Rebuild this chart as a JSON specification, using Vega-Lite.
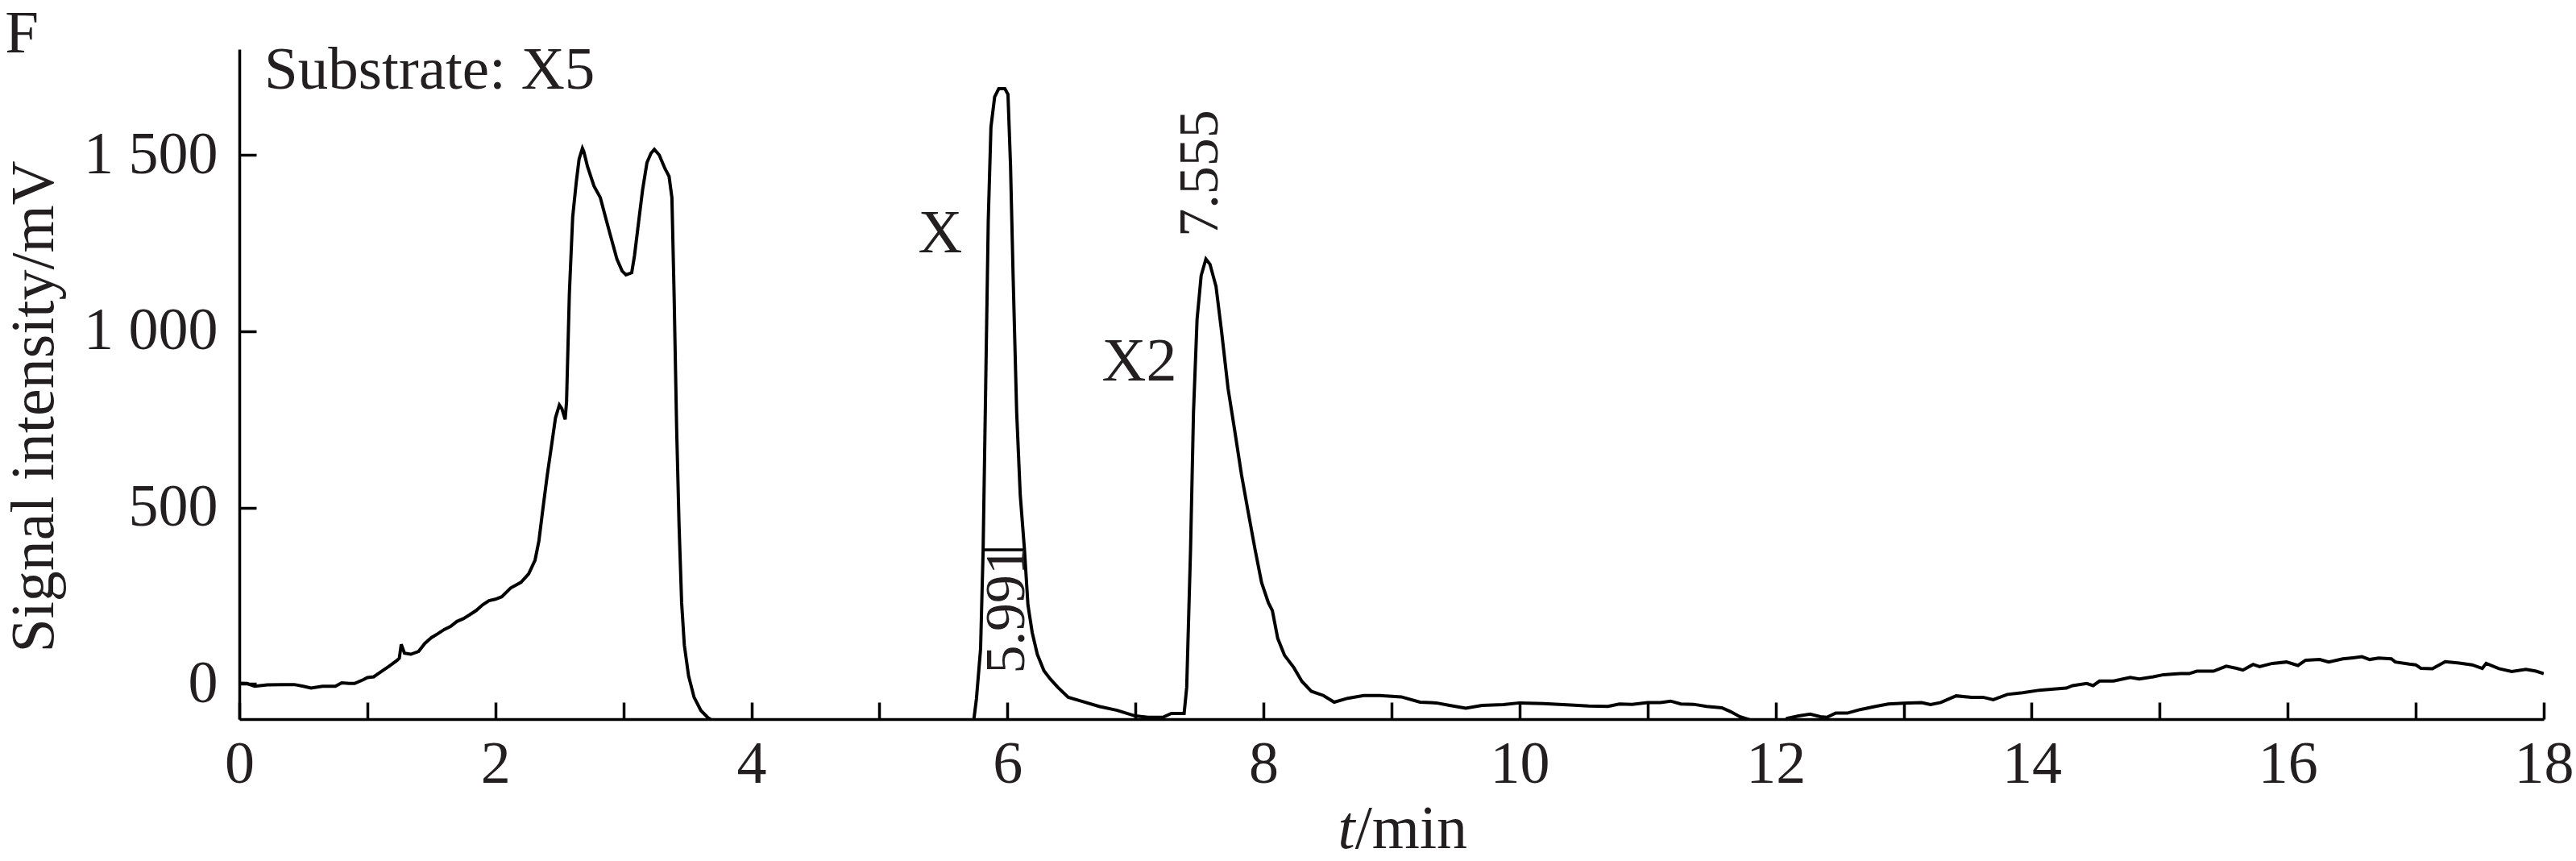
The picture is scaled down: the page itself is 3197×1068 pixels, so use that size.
{
  "$schema": "https://vega.github.io/schema/vega-lite/v6.json",
  "width": 2860,
  "height": 831,
  "autosize": {"type": "none"},
  "padding": {"left": 297, "top": 61, "right": 40, "bottom": 176},
  "background": "white",
  "config": {
    "view": {"stroke": null},
    "font": "Liberation Serif",
    "axis": {
      "grid": false,
      "domainColor": "#000000",
      "domainWidth": 3.5,
      "tickColor": "#000000",
      "tickWidth": 3.5,
      "labelFont": "Liberation Serif",
      "labelFontSize": 74,
      "labelColor": "#231f20",
      "titleFont": "Liberation Serif",
      "titleFontSize": 76,
      "titleFontWeight": "normal",
      "titleColor": "#231f20"
    }
  },
  "layer": [
    {
      "data": {
        "values": [
          {"t": 0, "v": 2}, {"t": 0.06, "v": 1}, {"t": 0.12, "v": -7}, {"t": 0.22, "v": -3},
          {"t": 0.33, "v": -2}, {"t": 0.43, "v": -2}, {"t": 0.5, "v": -7}, {"t": 0.56, "v": -12},
          {"t": 0.65, "v": -7}, {"t": 0.75, "v": -7}, {"t": 0.8, "v": 3}, {"t": 0.86, "v": 1},
          {"t": 0.9, "v": 1}, {"t": 0.97, "v": 12}, {"t": 1.0, "v": 18}, {"t": 1.05, "v": 20},
          {"t": 1.11, "v": 35}, {"t": 1.17, "v": 50}, {"t": 1.23, "v": 66}, {"t": 1.25, "v": 73},
          {"t": 1.265, "v": 112}, {"t": 1.29, "v": 87}, {"t": 1.34, "v": 84}, {"t": 1.4, "v": 92},
          {"t": 1.45, "v": 115}, {"t": 1.5, "v": 131}, {"t": 1.55, "v": 142}, {"t": 1.6, "v": 154},
          {"t": 1.65, "v": 163}, {"t": 1.7, "v": 177}, {"t": 1.75, "v": 185}, {"t": 1.8, "v": 196},
          {"t": 1.85, "v": 208}, {"t": 1.9, "v": 224}, {"t": 1.95, "v": 236}, {"t": 2.0, "v": 240},
          {"t": 2.05, "v": 247}, {"t": 2.12, "v": 272}, {"t": 2.2, "v": 288}, {"t": 2.26, "v": 312},
          {"t": 2.31, "v": 351}, {"t": 2.34, "v": 405}, {"t": 2.37, "v": 493}, {"t": 2.405, "v": 591},
          {"t": 2.44, "v": 679}, {"t": 2.47, "v": 755}, {"t": 2.5, "v": 791}, {"t": 2.52, "v": 780},
          {"t": 2.545, "v": 750}, {"t": 2.556, "v": 799}, {"t": 2.578, "v": 1106}, {"t": 2.604, "v": 1324},
          {"t": 2.632, "v": 1423}, {"t": 2.654, "v": 1488}, {"t": 2.68, "v": 1519}, {"t": 2.69, "v": 1511},
          {"t": 2.72, "v": 1467}, {"t": 2.77, "v": 1412}, {"t": 2.82, "v": 1379}, {"t": 2.86, "v": 1324},
          {"t": 2.9, "v": 1270}, {"t": 2.95, "v": 1204}, {"t": 2.99, "v": 1171}, {"t": 3.02, "v": 1160},
          {"t": 3.065, "v": 1166}, {"t": 3.087, "v": 1215}, {"t": 3.12, "v": 1313}, {"t": 3.15, "v": 1401},
          {"t": 3.184, "v": 1478}, {"t": 3.216, "v": 1505}, {"t": 3.242, "v": 1516}, {"t": 3.28, "v": 1500},
          {"t": 3.325, "v": 1461}, {"t": 3.357, "v": 1439}, {"t": 3.379, "v": 1379}, {"t": 3.396, "v": 1106},
          {"t": 3.416, "v": 723}, {"t": 3.435, "v": 449}, {"t": 3.455, "v": 230}, {"t": 3.476, "v": 110},
          {"t": 3.509, "v": 23}, {"t": 3.552, "v": -38}, {"t": 3.606, "v": -76}, {"t": 3.66, "v": -96},
          {"t": 3.7, "v": -105}, {"t": 3.75, "v": -130}, {"t": 5.7, "v": -130}, {"t": 5.738, "v": -100},
          {"t": 5.758, "v": -41}, {"t": 5.79, "v": 99}, {"t": 5.81, "v": 380}, {"t": 5.83, "v": 847},
          {"t": 5.85, "v": 1314}, {"t": 5.871, "v": 1579}, {"t": 5.9, "v": 1665}, {"t": 5.932, "v": 1688},
          {"t": 5.98, "v": 1688}, {"t": 6.004, "v": 1672}, {"t": 6.024, "v": 1470}, {"t": 6.044, "v": 1158},
          {"t": 6.072, "v": 769}, {"t": 6.1, "v": 535}, {"t": 6.133, "v": 380}, {"t": 6.16, "v": 224},
          {"t": 6.193, "v": 146}, {"t": 6.233, "v": 84}, {"t": 6.285, "v": 37}, {"t": 6.334, "v": 14},
          {"t": 6.394, "v": -10}, {"t": 6.475, "v": -38}, {"t": 6.575, "v": -49}, {"t": 6.716, "v": -64},
          {"t": 6.857, "v": -75}, {"t": 6.998, "v": -91}, {"t": 7.099, "v": -95}, {"t": 7.22, "v": -94},
          {"t": 7.28, "v": -84}, {"t": 7.38, "v": -84}, {"t": 7.4, "v": -10}, {"t": 7.43, "v": 380},
          {"t": 7.453, "v": 769}, {"t": 7.481, "v": 1034}, {"t": 7.513, "v": 1158}, {"t": 7.55, "v": 1205},
          {"t": 7.582, "v": 1190}, {"t": 7.629, "v": 1127}, {"t": 7.671, "v": 1004}, {"t": 7.723, "v": 838},
          {"t": 7.776, "v": 716}, {"t": 7.828, "v": 593}, {"t": 7.88, "v": 488}, {"t": 7.933, "v": 383},
          {"t": 7.985, "v": 287}, {"t": 8.038, "v": 230}, {"t": 8.069, "v": 208}, {"t": 8.111, "v": 129},
          {"t": 8.164, "v": 81}, {"t": 8.237, "v": 46}, {"t": 8.3, "v": 7}, {"t": 8.373, "v": -21},
          {"t": 8.468, "v": -33}, {"t": 8.552, "v": -52}, {"t": 8.657, "v": -41}, {"t": 8.782, "v": -33},
          {"t": 8.908, "v": -33}, {"t": 9.076, "v": -37}, {"t": 9.223, "v": -52}, {"t": 9.349, "v": -54},
          {"t": 9.454, "v": -61}, {"t": 9.58, "v": -69}, {"t": 9.706, "v": -61}, {"t": 9.873, "v": -59},
          {"t": 10.0, "v": -54}, {"t": 10.188, "v": -56}, {"t": 10.4, "v": -60}, {"t": 10.54, "v": -63},
          {"t": 10.69, "v": -64}, {"t": 10.78, "v": -57}, {"t": 10.88, "v": -58}, {"t": 11.0, "v": -53},
          {"t": 11.1, "v": -53}, {"t": 11.18, "v": -49}, {"t": 11.26, "v": -57}, {"t": 11.36, "v": -58},
          {"t": 11.46, "v": -64}, {"t": 11.58, "v": -68}, {"t": 11.65, "v": -79}, {"t": 11.72, "v": -93},
          {"t": 11.79, "v": -101}, {"t": 11.89, "v": -112}, {"t": 12.06, "v": -112}, {"t": 12.09, "v": -98},
          {"t": 12.18, "v": -91}, {"t": 12.27, "v": -86}, {"t": 12.35, "v": -93}, {"t": 12.4, "v": -95},
          {"t": 12.47, "v": -83}, {"t": 12.56, "v": -83}, {"t": 12.66, "v": -73}, {"t": 12.78, "v": -64},
          {"t": 12.88, "v": -57}, {"t": 13.0, "v": -55}, {"t": 13.14, "v": -53}, {"t": 13.21, "v": -59},
          {"t": 13.29, "v": -53}, {"t": 13.41, "v": -34}, {"t": 13.53, "v": -38}, {"t": 13.62, "v": -38},
          {"t": 13.7, "v": -45}, {"t": 13.81, "v": -30}, {"t": 13.93, "v": -25}, {"t": 14.06, "v": -18},
          {"t": 14.17, "v": -15}, {"t": 14.27, "v": -12}, {"t": 14.32, "v": -5}, {"t": 14.43, "v": 1},
          {"t": 14.48, "v": -5}, {"t": 14.53, "v": 8}, {"t": 14.64, "v": 8}, {"t": 14.77, "v": 18},
          {"t": 14.84, "v": 14}, {"t": 14.95, "v": 20}, {"t": 15.03, "v": 26}, {"t": 15.16, "v": 29},
          {"t": 15.23, "v": 29}, {"t": 15.29, "v": 36}, {"t": 15.42, "v": 36}, {"t": 15.52, "v": 50},
          {"t": 15.6, "v": 44}, {"t": 15.65, "v": 39}, {"t": 15.73, "v": 55}, {"t": 15.78, "v": 49},
          {"t": 15.88, "v": 58}, {"t": 15.99, "v": 62}, {"t": 16.08, "v": 52}, {"t": 16.14, "v": 67},
          {"t": 16.25, "v": 69}, {"t": 16.32, "v": 62}, {"t": 16.43, "v": 71}, {"t": 16.51, "v": 74},
          {"t": 16.58, "v": 77}, {"t": 16.64, "v": 69}, {"t": 16.71, "v": 73}, {"t": 16.81, "v": 71},
          {"t": 16.84, "v": 62}, {"t": 16.95, "v": 56}, {"t": 17.0, "v": 54}, {"t": 17.04, "v": 44},
          {"t": 17.13, "v": 43}, {"t": 17.23, "v": 63}, {"t": 17.34, "v": 59}, {"t": 17.44, "v": 54},
          {"t": 17.52, "v": 44}, {"t": 17.55, "v": 58}, {"t": 17.65, "v": 43}, {"t": 17.75, "v": 35},
          {"t": 17.86, "v": 41}, {"t": 17.94, "v": 36}, {"t": 18.0, "v": 29}
        ]
      },
      "mark": {"type": "line", "clip": true, "color": "#000000", "strokeWidth": 4},
      "encoding": {
        "x": {
          "field": "t",
          "type": "quantitative",
          "scale": {"domain": [0, 18], "nice": false, "zero": false},
          "axis": {
            "title": null,
            "values": [0, 1, 2, 3, 4, 5, 6, 7, 8, 9, 10, 11, 12, 13, 14, 15, 16, 17, 18],
            "labelExpr": "datum.value % 2 === 0 ? format(datum.value, 'd') : ''",
            "tickSize": -21,
            "labelPadding": 41,
            "labelFlush": false,
            "labelOverlap": false
          }
        },
        "y": {
          "field": "v",
          "type": "quantitative",
          "scale": {"domain": [-100, 1800], "nice": false, "zero": false},
          "axis": {
            "title": "Signal intensity/mV",
            "values": [0, 500, 1000, 1500],
            "labelExpr": "replace(format(datum.value, ','), ',', ' ')",
            "tickSize": -21,
            "labelPadding": 48,
            "labelFlush": false,
            "titleX": -232,
            "titleY": 443,
            "titleBaseline": "alphabetic"
          }
        }
      }
    },
    {
      "data": {"values": [{"t": 5.82, "t2": 6.13, "v": 380}]},
      "mark": {"type": "rule", "color": "#000000", "strokeWidth": 3.5},
      "encoding": {
        "x": {"field": "t", "type": "quantitative"},
        "x2": {"field": "t2"},
        "y": {"field": "v", "type": "quantitative"}
      }
    },
    {
      "data": {"values": [{"label": "X", "t": 5.475, "v": 1276}, {"label": "X2", "t": 7.03, "v": 913}]},
      "mark": {"type": "text", "font": "Liberation Serif", "fontSize": 76, "color": "#231f20", "align": "center", "baseline": "middle"},
      "encoding": {
        "x": {"field": "t", "type": "quantitative"},
        "y": {"field": "v", "type": "quantitative"},
        "text": {"field": "label"}
      }
    },
    {
      "data": {"values": [{"label": "Substrate: X5", "t": 0.195, "v": 1688}, {"label": "F", "t": -1.83, "v": 1790}]},
      "mark": {"type": "text", "font": "Liberation Serif", "fontSize": 75, "color": "#231f20", "align": "left", "baseline": "alphabetic"},
      "encoding": {
        "x": {"field": "t", "type": "quantitative"},
        "y": {"field": "v", "type": "quantitative"},
        "text": {"field": "label"}
      }
    },
    {
      "data": {"values": [{"label": "5.991", "t": 6.0, "v": 209}, {"label": "7.555", "t": 7.51, "v": 1448}]},
      "mark": {"type": "text", "font": "Liberation Serif", "fontSize": 70, "color": "#231f20", "align": "center", "baseline": "middle", "angle": 270},
      "encoding": {
        "x": {"field": "t", "type": "quantitative"},
        "y": {"field": "v", "type": "quantitative"},
        "text": {"field": "label"}
      }
    },
    {
      "data": {"values": [{"label": "t", "t": 8.715, "v": -465}]},
      "mark": {"type": "text", "font": "Liberation Serif", "fontSize": 76, "fontStyle": "italic", "color": "#231f20", "align": "right", "baseline": "alphabetic"},
      "encoding": {
        "x": {"field": "t", "type": "quantitative"},
        "y": {"field": "v", "type": "quantitative"},
        "text": {"field": "label"}
      }
    },
    {
      "data": {"values": [{"label": "/min", "t": 8.715, "v": -465}]},
      "mark": {"type": "text", "font": "Liberation Serif", "fontSize": 76, "color": "#231f20", "align": "left", "baseline": "alphabetic"},
      "encoding": {
        "x": {"field": "t", "type": "quantitative"},
        "y": {"field": "v", "type": "quantitative"},
        "text": {"field": "label"}
      }
    }
  ]
}
